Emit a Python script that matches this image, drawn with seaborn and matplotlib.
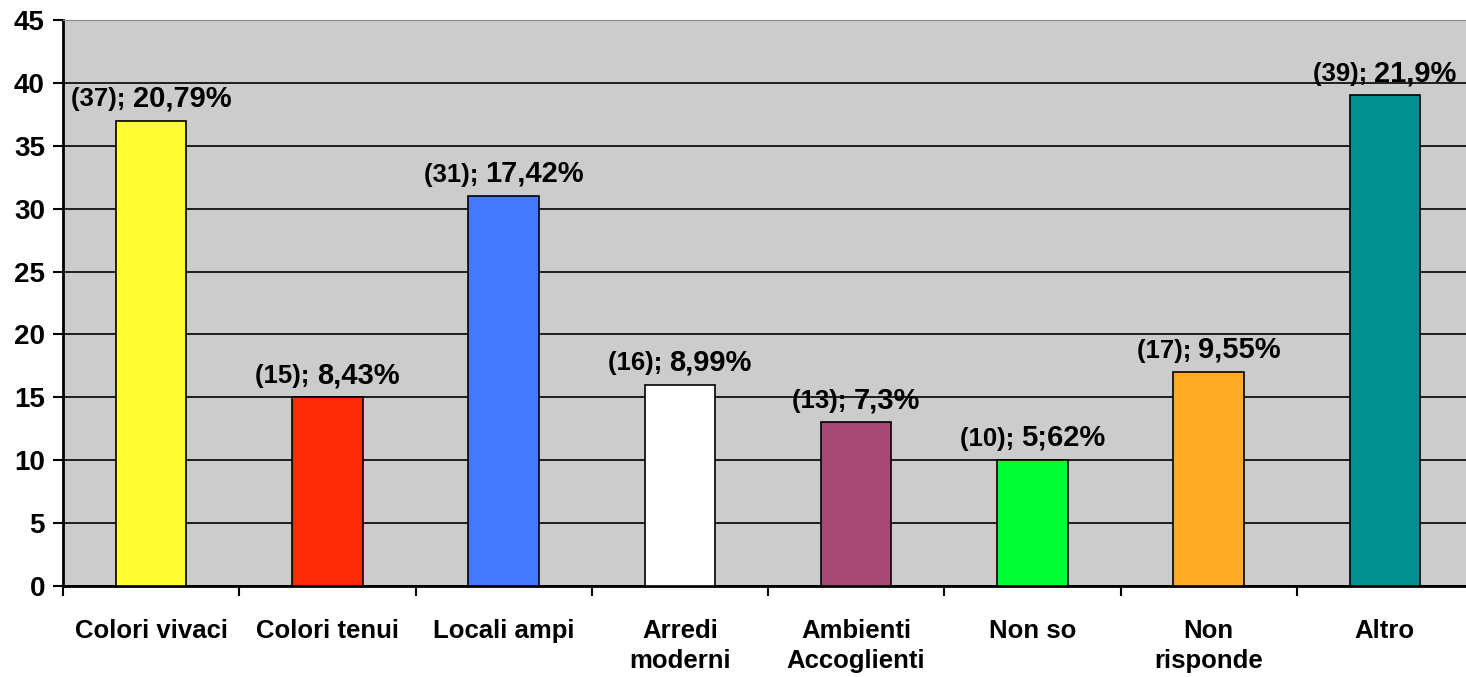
import matplotlib
matplotlib.use("Agg")
import matplotlib.pyplot as plt
import seaborn as sns
import pandas as pd
from matplotlib.offsetbox import TextArea, HPacker, AnnotationBbox

# data
categories = ["Colori vivaci", "Colori tenui", "Locali ampi", "Arredi\nmoderni",
              "Ambienti\nAccoglienti", "Non so", "Non\nrisponde", "Altro"]
counts = [37, 15, 31, 16, 13, 10, 17, 39]
pct_labels = ["20,79%", "8,43%", "17,42%", "8,99%", "7,3%", "5;62%", "9,55%", "21,9%"]
bar_colors = ["#FFFF33", "#FF2A05", "#4479FF", "#FFFFFF",
              "#A84874", "#00FF33", "#FFAA22", "#009090"]
y_ticks = list(range(0, 50, 5))

df = pd.DataFrame({"cat": categories, "n": counts})

sns.set_style("white")
plt.rcParams["font.family"] = ["Liberation Sans", "DejaVu Sans"]
plt.rcParams["font.weight"] = "bold"
plt.rcParams["text.color"] = "black"
plt.rcParams["xtick.color"] = "black"
plt.rcParams["ytick.color"] = "black"

fig = plt.figure(figsize=(14.66, 6.77), dpi=100)
ax = fig.add_axes([63 / 1466, 91 / 677, 1410 / 1466, 566 / 677])
ax.set_facecolor("#CCCCCC")

sns.barplot(data=df, x="cat", y="n", hue="cat", palette=bar_colors, legend=False,
            saturation=1, width=0.4, edgecolor="black", linewidth=1.2, ax=ax, zorder=3)

ax.set_ylim(0, 45)
ax.set_xlim(-0.5, len(categories) - 0.5)
ax.set_yticks(y_ticks)
ax.yaxis.grid(True, color="black", linewidth=1.2, zorder=0)
ax.set_axisbelow(True)
ax.tick_params(axis="y", length=7, width=1.5, direction="out", labelsize=20,
               left=True, labelcolor="black", pad=6)
ax.set_yticklabels([str(t) for t in y_ticks], fontweight="bold")

# category labels centred, tick marks on category borders
ax.set_xticks(range(len(categories)))
ax.set_xticklabels(categories, fontsize=18.5, fontweight="bold", linespacing=1.3,
                   color="black")
ax.tick_params(axis="x", which="major", length=0, pad=24)
ax.set_xticks([i - 0.5 for i in range(len(categories) + 1)], minor=True)
ax.tick_params(axis="x", which="minor", length=7, width=1.5, direction="out",
               bottom=True)
ax.set_xlabel("")
ax.set_ylabel("")

for s in ["left", "bottom"]:
    ax.spines[s].set_color("black")
    ax.spines[s].set_linewidth(2)
ax.spines["top"].set_color("#888888")
ax.spines["right"].set_visible(False)

# value labels: "(n);" smaller, percentage larger
for i, (n, p) in enumerate(zip(counts, pct_labels)):
    a = TextArea(f"({n}); ", textprops=dict(fontsize=18.5, fontweight="bold", color="black"))
    b = TextArea(p, textprops=dict(fontsize=21, fontweight="bold", color="black"))
    box = HPacker(children=[a, b], align="baseline", pad=0, sep=0)
    ab = AnnotationBbox(box, (i, n), xybox=(0, 6), xycoords="data",
                        boxcoords="offset points", box_alignment=(0.5, 0),
                        frameon=False, zorder=5)
    ax.add_artist(ab)

fig.savefig("out.png", dpi=100, facecolor="white")
